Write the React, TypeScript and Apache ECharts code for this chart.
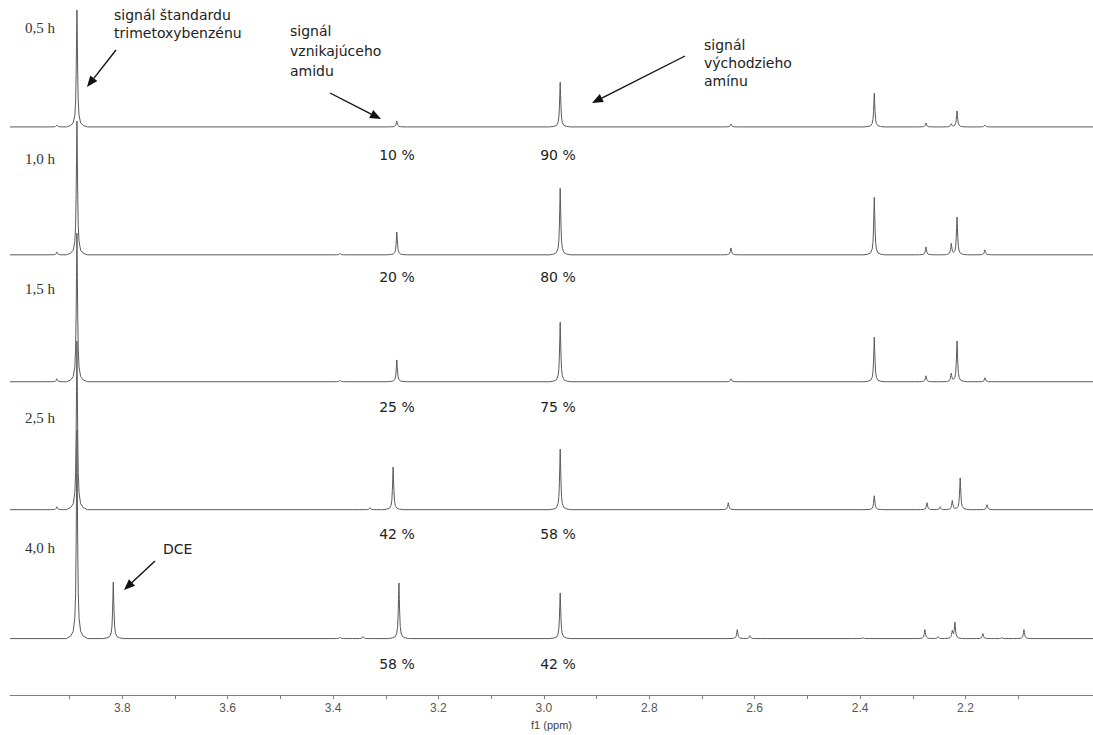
import React, { useEffect, useRef } from "react";
import * as echarts from "echarts";

// ---------- data ----------
const timeLabels = ["0,5 h", "1,0 h", "1,5 h", "2,5 h", "4,0 h"];
const amidePercent = ["10 %", "20 %", "25 %", "42 %", "58 %"];
const aminePercent = ["90 %", "80 %", "75 %", "58 %", "42 %"];

// peaks: [ppm, intensity]
const peaks05 = [[3.924, 2], [3.886, 118], [3.279, 6], [2.969, 45], [2.645, 3], [2.373, 34], [2.275, 4], [2.227, 3], [2.216, 16], [2.163, 2]];
const peaks10 = [[3.924, 3], [3.886, 135], [3.387, 1.5], [3.279, 23], [2.969, 67], [2.645, 7], [2.373, 58], [2.275, 8], [2.227, 11], [2.216, 38], [2.163, 5]];
const peaks15 = [[3.924, 3], [3.886, 150], [3.387, 1.5], [3.279, 22], [2.969, 60], [2.645, 3], [2.373, 45], [2.275, 6], [2.227, 8], [2.216, 41], [2.163, 4]];
const peaks25 = [[3.924, 3], [3.886, 170], [3.33, 2], [3.286, 43], [2.969, 61], [2.65, 7], [2.373, 14], [2.273, 7], [2.248, 3], [2.225, 9], [2.21, 32], [2.159, 5]];
const peaks40 = [[3.886, 210], [3.817, 57], [3.387, 1.5], [3.343, 2], [3.275, 56], [2.969, 46], [2.633, 9], [2.609, 3], [2.394, 1], [2.277, 9], [2.252, 2], [2.225, 7], [2.22, 16], [2.167, 5], [2.131, 1], [2.089, 9]];
const spectra = [peaks05, peaks10, peaks15, peaks25, peaks40];

const ppmMin = 1.958;
const ppmMax = 4.013;
const tickValues = [2.1, 2.2, 2.3, 2.4, 2.5, 2.6, 2.7, 2.8, 2.9, 3.0, 3.1, 3.2, 3.3, 3.4, 3.5, 3.6, 3.7, 3.8, 3.9];
const labelValues = [2.2, 2.4, 2.6, 2.8, 3.0, 3.2, 3.4, 3.6, 3.8];

// ---------- layout / style ----------
const baselineOffsets = [516, 387, 259, 130, 0];
// line-shape of one peak: [distance in ppm, fraction of height]
const peakProfile = [[0, 1], [0.0008, 0.7], [0.0015, 0.45], [0.0025, 0.22], [0.004, 0.1], [0.007, 0.035], [0.012, 0.012], [0.02, 0]];

function profileAt(d: number) {
  d = Math.abs(d);
  for (let i = 1; i < peakProfile.length; i++) {
    const [d0, f0] = peakProfile[i - 1];
    const [d1, f1] = peakProfile[i];
    if (d <= d1) return f0 + ((d - d0) / (d1 - d0)) * (f1 - f0);
  }
  return 0;
}

function buildLine(peaks: number[][], offset: number) {
  const xs: number[] = [ppmMin, ppmMax];
  peaks.forEach(([p]) => {
    peakProfile.forEach(([d]) => {
      xs.push(p - d, p + d);
    });
  });
  const uniq = Array.from(new Set(xs.map((v) => +v.toFixed(5))))
    .filter((v) => v >= ppmMin && v <= ppmMax)
    .sort((a, b) => a - b);
  return uniq.map((x) => {
    let y = 0;
    peaks.forEach(([p, h]) => {
      y += h * profileAt(x - p);
    });
    return [x, offset + y];
  });
}

const sansFont = "DejaVu Sans, Verdana, sans-serif";
const textColor = "#222";

function arrow(x1: number, y1: number, x2: number, y2: number) {
  const len = Math.hypot(x2 - x1, y2 - y1);
  const ux = (x2 - x1) / len;
  const uy = (y2 - y1) / len;
  const hl = 11;
  const hw = 4.5;
  const bx = x2 - ux * hl;
  const by = y2 - uy * hl;
  return [
    { type: "line", shape: { x1, y1, x2: bx, y2: by }, style: { stroke: "#111", lineWidth: 1.4 } },
    {
      type: "polygon",
      shape: { points: [[x2, y2], [bx - uy * hw, by + ux * hw], [bx + uy * hw, by - ux * hw]] },
      style: { fill: "#111" },
    },
  ];
}

function txt(text: string, x: number, y: number, extra: any = {}) {
  return {
    type: "text",
    style: { text, x, y, font: `14px ${sansFont}`, fill: textColor, verticalAlign: "middle", align: "left", ...extra },
  };
}

export default function App() {
  const ref = useRef<HTMLDivElement>(null);
  useEffect(() => {
    if (!ref.current) return;
    const chart = echarts.init(ref.current, undefined, { renderer: "svg" });

    const timeY = [28, 159, 289, 418, 548];
    const pctY = [155, 277, 407, 534, 664];

    const graphics: any[] = [];
    timeLabels.forEach((t, i) => {
      graphics.push({
        type: "text",
        style: { text: t, x: 25, y: timeY[i], font: "15px Liberation Serif, Times New Roman, serif", fill: "#333", verticalAlign: "middle" },
      });
    });
    amidePercent.forEach((t, i) => graphics.push(txt(t, 397, pctY[i], { align: "center" })));
    aminePercent.forEach((t, i) => graphics.push(txt(t, 558, pctY[i], { align: "center" })));

    graphics.push(txt("signál štandardu", 114, 15));
    graphics.push(txt("trimetoxybenzénu", 114, 33));
    graphics.push(...arrow(116, 50, 87, 87));

    graphics.push(txt("signál", 290, 31));
    graphics.push(txt("vznikajúceho", 290, 51));
    graphics.push(txt("amidu", 290, 71));
    graphics.push(...arrow(330, 93, 381, 119));

    graphics.push(txt("signál", 704, 45));
    graphics.push(txt("východzieho", 704, 63));
    graphics.push(txt("amínu", 704, 81));
    graphics.push(...arrow(685, 56, 592, 103));

    graphics.push(txt("DCE", 163, 549));
    graphics.push(...arrow(155, 561, 124, 590));

    chart.setOption({
      animation: false,
      backgroundColor: "#ffffff",
      grid: { left: 10, right: 0, top: 0, bottom: 34 },
      xAxis: {
        type: "value",
        inverse: true,
        min: ppmMin,
        max: ppmMax,
        name: "f1 (ppm)",
        nameLocation: "middle",
        nameGap: 23,
        nameTextStyle: { fontFamily: "Liberation Sans, Arial, sans-serif", fontSize: 11, color: "#444" },
        axisLine: { show: true, onZero: false, lineStyle: { color: "#808080", width: 1 } },
        axisTick: { show: true, length: 4, customValues: tickValues, lineStyle: { color: "#808080" } },
        axisLabel: {
          customValues: labelValues,
          formatter: (v: number) => v.toFixed(1),
          fontFamily: "Liberation Sans, Arial, sans-serif",
          fontSize: 12,
          color: "#555",
          margin: 7,
        },
        splitLine: { show: false },
      },
      yAxis: { type: "value", min: -57, max: 644, show: false, splitLine: { show: false } },
      series: spectra.map((peaks, i) => ({
        type: "line",
        name: timeLabels[i],
        data: buildLine(peaks, baselineOffsets[i]),
        showSymbol: false,
        symbol: "none",
        smooth: false,
        clip: false,
        lineStyle: { color: "#5a5a5a", width: 1 },
      })),
      graphic: graphics,
    });
    return () => chart.dispose();
  }, []);
  return <div ref={ref} style={{ position: "fixed", left: 0, top: 0, width: 1093, height: 735, background: "#fff" }} />;
}
